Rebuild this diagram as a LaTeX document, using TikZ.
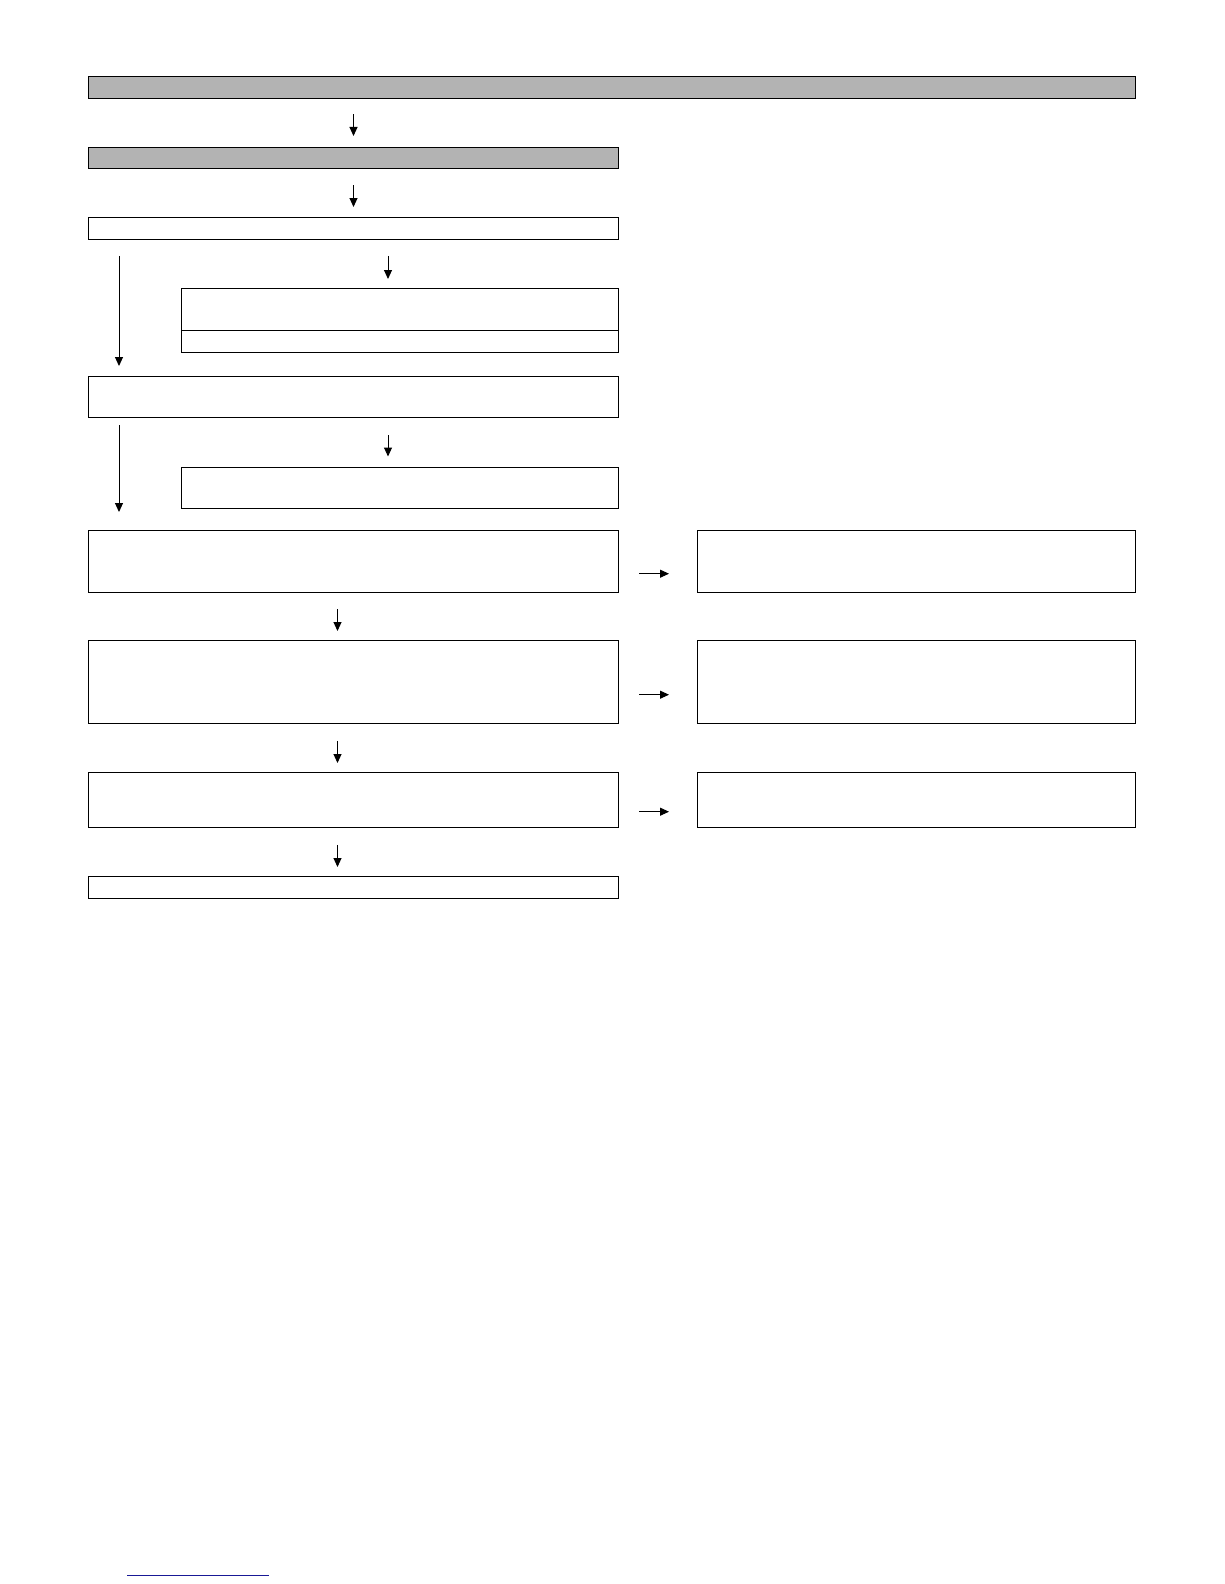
\documentclass[tikz,border=0pt]{standalone}
\usetikzlibrary{arrows.meta,calc}
\definecolor{boxgray}{RGB}{179,179,179}
\definecolor{linkblue}{RGB}{25,25,150}
\begin{document}
\begin{tikzpicture}[x=1pt,y=-1pt,
  box/.style={draw=black,line width=1.4pt,rectangle,inner sep=0pt,anchor=north west},
  graybox/.style={box,fill=boxgray},
  arr/.style={line width=1pt,-{Triangle[length=9pt,width=8pt]}}]
\useasboundingbox (0,0) rectangle (1224,1584);
% column coordinates for the arrows
\coordinate (cA) at (353.5,0);
\coordinate (cB) at (388,0);
\coordinate (cC) at (337.5,0);
\coordinate (cL) at (119,0);
% boxes
\node[graybox,minimum width=1047pt,minimum height=22pt] (g1) at (88,76) {};
\node[graybox,minimum width=530pt,minimum height=21.5pt] (g2) at (88,146.5) {};
\node[box,minimum width=530pt,minimum height=21.5pt] (b3) at (88,217) {};
\node[box,minimum width=437pt,minimum height=42pt] (b4a) at (181,288) {};
\node[box,minimum width=437pt,minimum height=21.5pt] (b4b) at (181,330) {};
\node[box,minimum width=530pt,minimum height=41pt] (b5) at (88,376) {};
\node[box,minimum width=437pt,minimum height=41pt] (b6) at (181,467) {};
\node[box,minimum width=530pt,minimum height=62pt] (b7) at (88,530) {};
\node[box,minimum width=438pt,minimum height=62pt] (r1) at (697,530) {};
\node[box,minimum width=530pt,minimum height=83pt] (b8) at (88,640) {};
\node[box,minimum width=438pt,minimum height=83pt] (r2) at (697,640) {};
\node[box,minimum width=530pt,minimum height=55pt] (b9) at (88,772) {};
\node[box,minimum width=438pt,minimum height=55pt] (r3) at (697,772) {};
\node[box,minimum width=530pt,minimum height=22pt] (b10) at (88,876) {};
% vertical arrows
\draw[arr] ($(g1.south -| cA)+(0,15)$) -- ($(g2.north -| cA)+(0,-10.5)$);
\draw[arr] ($(g2.south -| cA)+(0,16)$) -- ($(b3.north -| cA)+(0,-10)$);
\draw[arr] ($(b3.south -| cB)+(0,16)$) -- ($(b4a.north -| cB)+(0,-9)$);
\draw[arr] ($(b3.south -| cL)+(0,16)$) -- ($(b5.north -| cL)+(0,-10)$);
\draw[arr] ($(b5.south -| cB)+(0,17)$) -- ($(b6.north -| cB)+(0,-10.5)$);
\draw[arr] ($(b5.south -| cL)+(0,7)$) -- ($(b7.north -| cL)+(0,-18)$);
\draw[arr] ($(b7.south -| cC)+(0,16)$) -- ($(b8.north -| cC)+(0,-9)$);
\draw[arr] ($(b8.south -| cC)+(0,16.5)$) -- ($(b9.north -| cC)+(0,-9)$);
\draw[arr] ($(b9.south -| cC)+(0,16.5)$) -- ($(b10.north -| cC)+(0,-9)$);
% horizontal arrows
\draw[arr] ($(b7.east)+(20,12)$) -- ($(r1.west)+(-28,12)$);
\draw[arr] ($(b8.east)+(20,12.5)$) -- ($(r2.west)+(-28,12.5)$);
\draw[arr] ($(b9.east)+(20,11.5)$) -- ($(r3.west)+(-28,11.5)$);
% blue rule at the foot of the page
\coordinate (u1) at (127,1575);
\coordinate (u2) at (269,1575);
\draw[linkblue,line width=1pt] (u1) -- (u2);
\end{tikzpicture}
\end{document}
